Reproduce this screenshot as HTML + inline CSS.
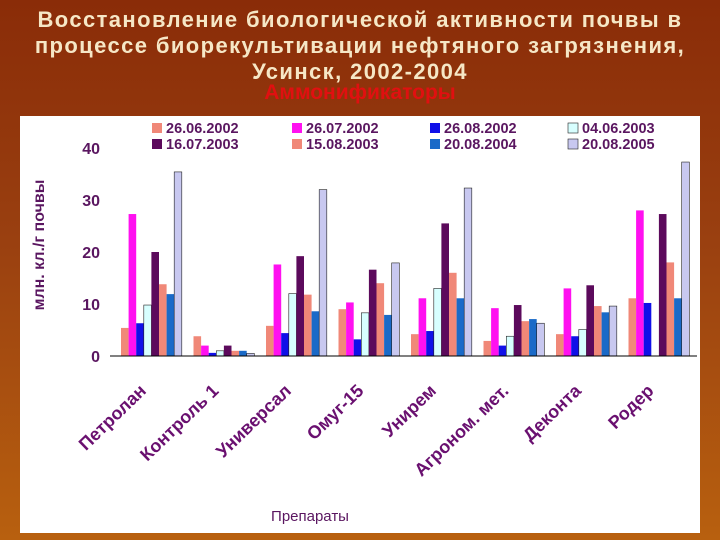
<!DOCTYPE html>
<html><head><meta charset="utf-8"><style>
html,body{margin:0;padding:0;}
body{width:720px;height:540px;overflow:hidden;background:linear-gradient(180deg,#8a2c08 0%,#9a4010 45%,#b8600f 100%);font-family:"Liberation Sans",sans-serif;position:relative;}
.t{position:absolute;left:0;width:720px;text-align:center;color:#f6e7c6;font-weight:bold;font-size:22px;letter-spacing:1.4px;white-space:nowrap;}
</style></head><body>
<div class="t" style="top:7px;line-height:26px;">Восстановление биологической активности почвы в<br>процессе биорекультивации нефтяного загрязнения,<br>Усинск, 2002-2004</div>
<div style="position:absolute;left:0;top:81px;width:720px;text-align:center;color:#e01010;font-weight:bold;font-size:21px;">Аммонификаторы</div>
<svg id="c" width="720" height="540" style="position:absolute;left:0;top:0">
<rect x="20" y="116" width="680" height="417" fill="#fff"/>
</svg>
<script>
const categories=["Петролан","Контроль 1","Универсал","Омуг-15","Унирем","Агроном. мет.","Деконта","Родер"];
const seriesNames=["26.06.2002","26.07.2002","26.08.2002","04.06.2003","16.07.2003","15.08.2003","20.08.2004","20.08.2005"];
const s1=[5.4,3.8,5.8,9,4.2,2.9,4.2,11.1];
const s2=[27.3,2,17.6,10.3,11.1,9.2,13,28];
const s3=[6.3,0.6,4.4,3.2,4.8,2,3.8,10.2];
const s4=[9.8,1,12,8.3,13,3.8,5.1,0];
const s5=[20,2,19.2,16.6,25.5,9.8,13.6,27.3];
const s6=[13.8,1,11.8,14,16,6.7,9.6,18];
const s7=[11.9,1,8.6,7.9,11.1,7.1,8.4,11.1];
const s8=[35.4,0.5,32,17.9,32.3,6.3,9.6,37.3];
const yTicks=[0,10,20,30,40];
const series=[s1,s2,s3,s4,s5,s6,s7,s8];
const colors=["#f08878","#ff10f0","#1010e8","#d8ffff","#5c0a5c","#f08878","#1a6ac8","#c8c8f0"];
const svg=document.getElementById('c');
const NS="http://www.w3.org/2000/svg";
const x0=115,gw=72.5,y0=356,ppu=5.2,bw=7.6;
function yS(v){return y0-v*ppu;}
function xS(ci,si){return x0+ci*gw+6+si*bw;}
function mk(t,a){const e=document.createElementNS(NS,t);for(const k in a)e.setAttribute(k,a[k]);svg.appendChild(e);return e;}
const pc="#5a1660";
const lc="#6a1070";
yTicks.forEach(v=>{
 const e=mk('text',{x:100,y:yS(v)+6,'text-anchor':'end','font-size':16,'font-weight':'bold',fill:pc,'font-family':'Liberation Sans, sans-serif'});
 e.textContent=v;
 
 
});
series.forEach((s,si)=>{
 s.forEach((v,ci)=>{
  if(v<=0)return;
  const r=mk('rect',{x:xS(ci,si),y:yS(v),width:bw,height:v*ppu,fill:colors[si],stroke:(si==3||si==7)?'#222':'none','stroke-width':0.6});
  
  
 });
});
const ax=mk('line',{x1:110,y1:y0,x2:697,y2:y0,stroke:'#000','stroke-width':1});


categories.forEach((c,ci)=>{
 const cx=x0+ci*gw+gw/2-4,cy=392;
 const e=mk('text',{x:cx,y:cy,'text-anchor':'end','font-size':18,'font-weight':'bold',fill:lc,transform:'rotate(-44 '+cx+' '+cy+')','font-family':'Liberation Sans, sans-serif'});
 e.textContent=c;
 
 
});
const lx=[152,292,430,568];
const legendPos=[[0,0],[1,0],[2,0],[3,0],[0,1],[1,1],[2,1],[3,1]];
seriesNames.forEach((n,si)=>{
 const p=legendPos[si];
 const x=lx[p[0]],y=123+p[1]*16;
 const r=mk('rect',{x:x,y:y,width:10,height:10,fill:colors[si],stroke:(si==3||si==7)?'#222':'none','stroke-width':0.6});
 
 
 const t=mk('text',{x:x+14,y:y+10,'font-size':14.5,'font-weight':'bold',fill:pc,'font-family':'Liberation Sans, sans-serif'});
 t.textContent=n;
 
 
});
const yt=mk('text',{x:44,y:245,'text-anchor':'middle','font-size':16,'font-weight':'bold',fill:pc,transform:'rotate(-90 44 245)','font-family':'Liberation Sans, sans-serif'});
yt.textContent='млн. кл./г почвы';


const xt=mk('text',{x:310,y:521,'text-anchor':'middle','font-size':15,fill:pc,'font-family':'Liberation Sans, sans-serif'});
xt.textContent='Препараты';


</script>
</body></html>
